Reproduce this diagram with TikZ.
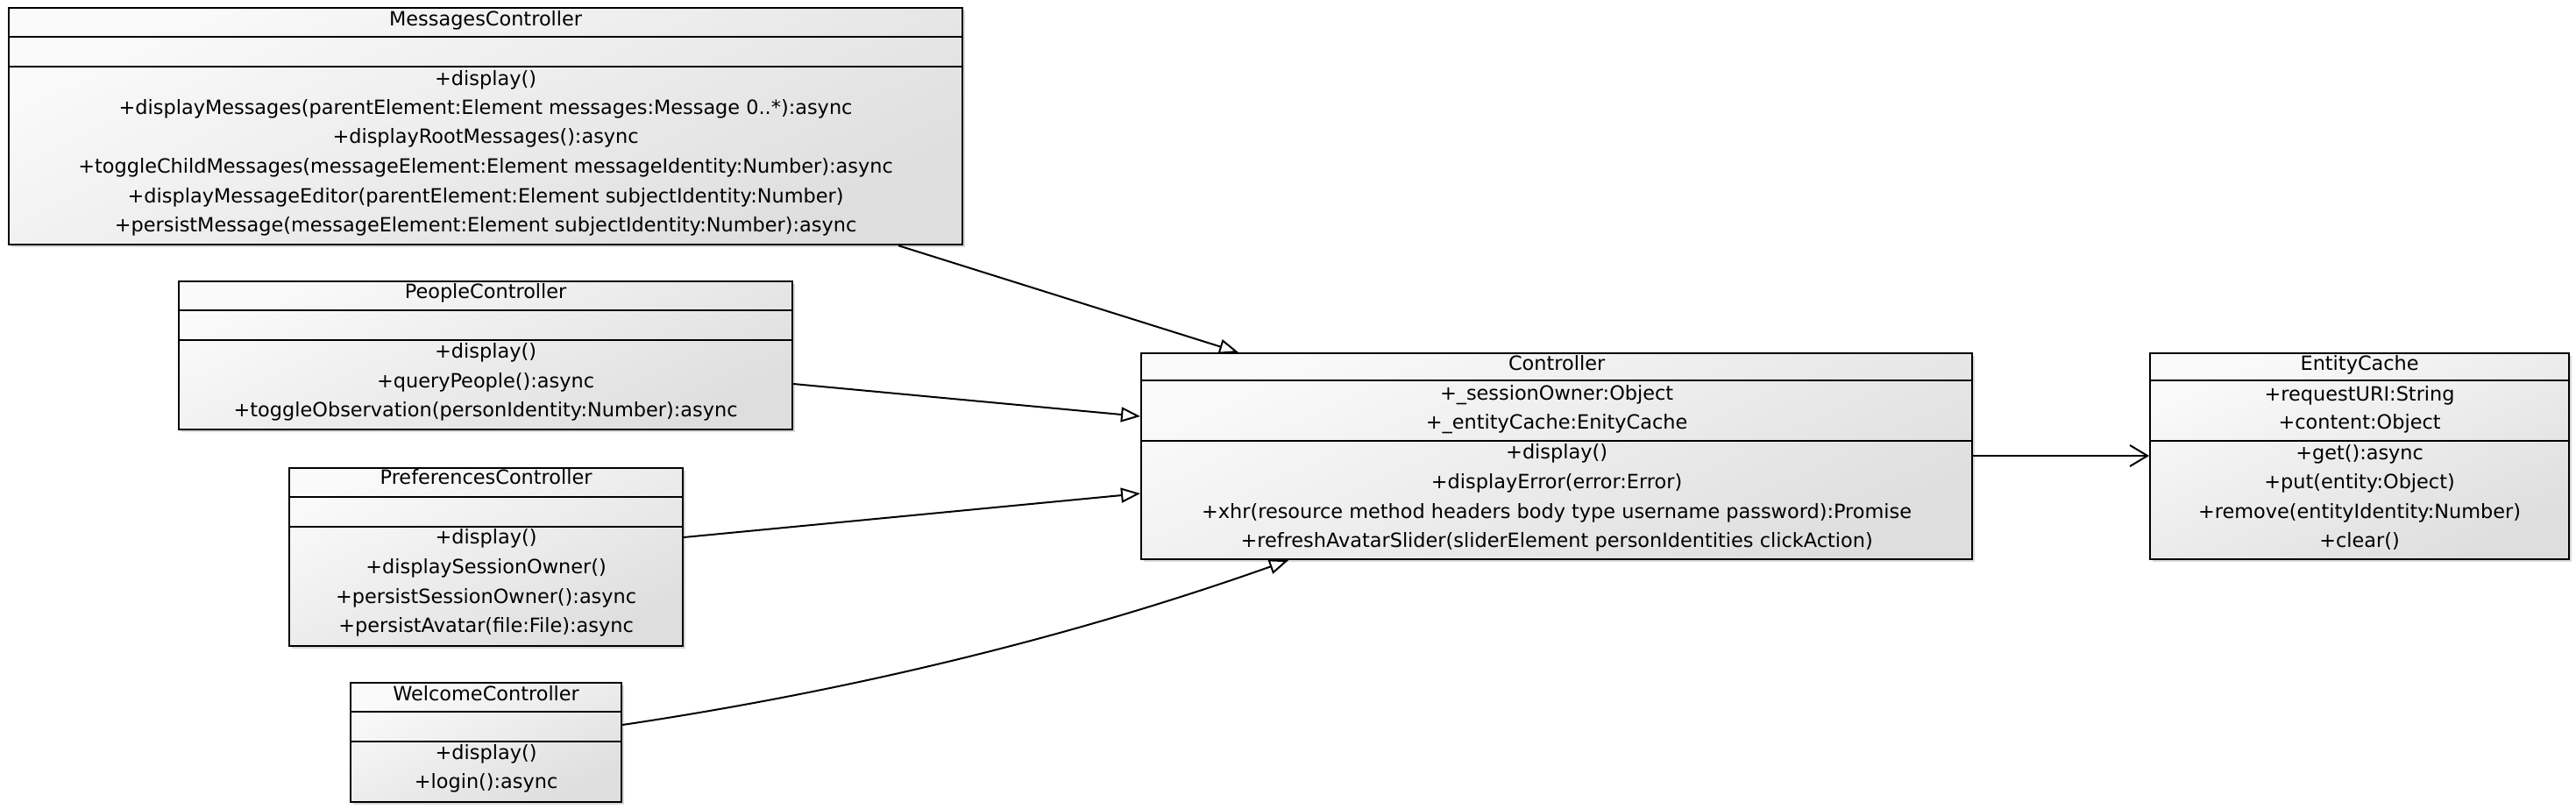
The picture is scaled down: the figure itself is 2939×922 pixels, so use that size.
\documentclass[tikz,border=0pt]{standalone}
\usepackage{fontspec}
\setmainfont{DejaVu Sans}
\usetikzlibrary{arrows.meta,calc,shadows}
\newcommand\classdividers[3]{%
  \draw[divider] ($(#1.north west)+(0,#2)$) -- ($(#1.north east)+(0,#2)$);
  \draw[divider] ($(#1.north west)+(0,#3)$) -- ($(#1.north east)+(0,#3)$);}
\tikzset{
  classbox/.style={draw=black, line width=2.2pt, inner sep=0pt, anchor=north west,
    top color=white!98!black, bottom color=black!13, shading angle=25,
    drop shadow={shadow xshift=3pt, shadow yshift=-3pt, opacity=0.15, fill=black}},
  divider/.style={draw=black, line width=2.2pt},
  mem/.style={inner sep=0pt, text height=16pt, text depth=4pt,
    font=\fontsize{22.4}{27}\selectfont},
  gen/.style={draw=black, line width=2pt, -{Triangle[fill=white, length=22pt, width=17pt]}},
  assoc/.style={draw=black, line width=2pt, -{Straight Barb[length=20pt, width=24pt]}}
}
\begin{document}
\begin{tikzpicture}[x=1pt,y=-1pt]
\useasboundingbox (0,0) rectangle (2939,922);

% MessagesController
\node[classbox, minimum width=1088pt, minimum height=270pt] (msg) at (9,8) {};
\classdividers{msg}{34}{68}
\node[mem] (msg-0) at ($(msg.north)+(0,15)$) {MessagesController};
\node[mem] (msg-1) at ($(msg.north)+(0,83)$) {+display()};
\node[mem] (msg-2) at ($(msg.north)+(0,116)$) {+displayMessages(parentElement:Element messages:Message 0..*):async};
\node[mem] (msg-3) at ($(msg.north)+(0,149)$) {+displayRootMessages():async};
\node[mem] (msg-4) at ($(msg.north)+(0,183)$) {+toggleChildMessages(messageElement:Element messageIdentity:Number):async};
\node[mem] (msg-5) at ($(msg.north)+(0,217)$) {+displayMessageEditor(parentElement:Element subjectIdentity:Number)};
\node[mem] (msg-6) at ($(msg.north)+(0,250)$) {+persistMessage(messageElement:Element subjectIdentity:Number):async};

% PeopleController
\node[classbox, minimum width=700pt, minimum height=169pt] (ppl) at (203,320) {};
\classdividers{ppl}{34}{68}
\node[mem] (ppl-0) at ($(ppl.north)+(0,14)$) {PeopleController};
\node[mem] (ppl-1) at ($(ppl.north)+(0,82)$) {+display()};
\node[mem] (ppl-2) at ($(ppl.north)+(0,116)$) {+queryPeople():async};
\node[mem] (ppl-3) at ($(ppl.north)+(0,149)$) {+toggleObservation(personIdentity:Number):async};

% PreferencesController
\node[classbox, minimum width=449pt, minimum height=203pt] (prf) at (329,533) {};
\classdividers{prf}{34}{68}
\node[mem] (prf-0) at ($(prf.north)+(0,13)$) {PreferencesController};
\node[mem] (prf-1) at ($(prf.north)+(0,81)$) {+display()};
\node[mem] (prf-2) at ($(prf.north)+(0,115)$) {+displaySessionOwner()};
\node[mem] (prf-3) at ($(prf.north)+(0,149)$) {+persistSessionOwner():async};
\node[mem] (prf-4) at ($(prf.north)+(0,182)$) {+persistAvatar(file:File):async};

% WelcomeController
\node[classbox, minimum width=309pt, minimum height=136pt] (wel) at (399,778) {};
\classdividers{wel}{34}{68}
\node[mem] (wel-0) at ($(wel.north)+(0,15)$) {WelcomeController};
\node[mem] (wel-1) at ($(wel.north)+(0,82)$) {+display()};
\node[mem] (wel-2) at ($(wel.north)+(0,115)$) {+login():async};

% Controller
\node[classbox, minimum width=948pt, minimum height=235pt] (ctrl) at (1301,402) {};
\classdividers{ctrl}{32}{101}
\node[mem] (ctrl-0) at ($(ctrl.north)+(0,14)$) {Controller};
\node[mem] (ctrl-1) at ($(ctrl.north)+(0,48)$) {+\_sessionOwner:Object};
\node[mem] (ctrl-2) at ($(ctrl.north)+(0,81)$) {+\_entityCache:EnityCache};
\node[mem] (ctrl-3) at ($(ctrl.north)+(0,115)$) {+display()};
\node[mem] (ctrl-4) at ($(ctrl.north)+(0,149)$) {+displayError(error:Error)};
\node[mem] (ctrl-5) at ($(ctrl.north)+(0,183)$) {+xhr(resource method headers body type username password):Promise};
\node[mem] (ctrl-6) at ($(ctrl.north)+(0,216)$) {+refreshAvatarSlider(sliderElement personIdentities clickAction)};

% EntityCache
\node[classbox, minimum width=478pt, minimum height=235pt] (ent) at (2452,402) {};
\classdividers{ent}{32}{101}
\node[mem] (ent-0) at ($(ent.north)+(0,14)$) {EntityCache};
\node[mem] (ent-1) at ($(ent.north)+(0,49)$) {+requestURI:String};
\node[mem] (ent-2) at ($(ent.north)+(0,81)$) {+content:Object};
\node[mem] (ent-3) at ($(ent.north)+(0,116)$) {+get():async};
\node[mem] (ent-4) at ($(ent.north)+(0,149)$) {+put(entity:Object)};
\node[mem] (ent-5) at ($(ent.north)+(0,183)$) {+remove(entityIdentity:Number)};
\node[mem] (ent-6) at ($(ent.north)+(0,216)$) {+clear()};

% connectors
\draw[gen] ($(msg.south west)+(1016,0)$) -- ($(ctrl.north west)+(112,0)$);
\draw[gen] ($(ppl.north east)+(0,118)$) -- ($(ctrl.north west)+(0,73)$);
\draw[gen] ($(prf.north east)+(0,80)$) -- ($(ctrl.north west)+(0,161)$);
\draw[gen] ($(wel.north east)+(0,49)$) .. controls ($(wel.north east)+(254,11)$) and ($(ctrl.south west)+(-85,90)$) .. ($(ctrl.south west)+(169,0)$);
\draw[assoc] ($(ctrl.north east)+(0,118)$) -- ($(ent.north west)+(0,118)$);
\end{tikzpicture}
\end{document}
